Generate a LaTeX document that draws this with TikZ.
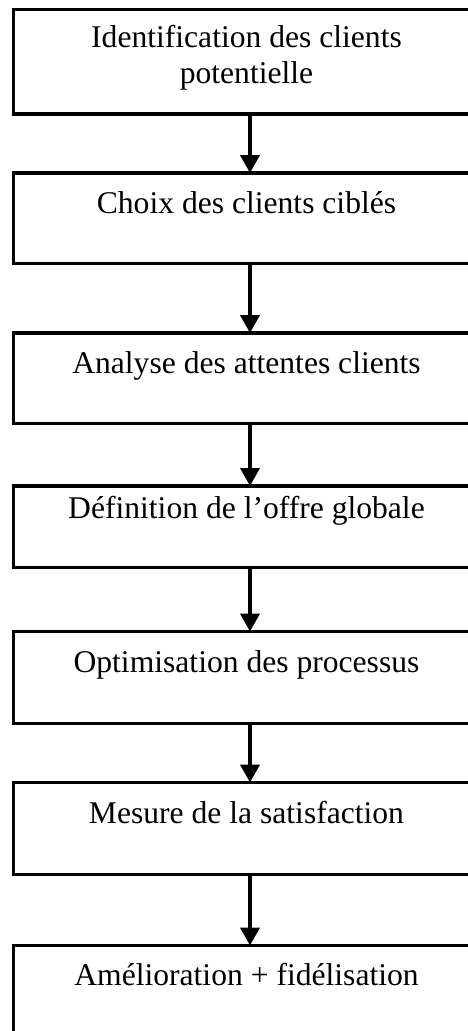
\documentclass[tikz,border=0pt]{standalone}
\usepackage{fontspec}
\setmainfont{Liberation Serif}
\usetikzlibrary{arrows.meta,calc}
\tikzset{
  box/.style={draw=black, line width=3.5pt, minimum width=473pt, inner sep=0pt, outer sep=0pt, anchor=north},
  lbl/.style={anchor=base, inner sep=0pt, font=\fontsize{31.6}{35.5}\selectfont, align=center},
  flow/.style={line width=4pt, -{Triangle[width=19pt,length=18pt]}}
}
\begin{document}
\begin{tikzpicture}[x=1pt,y=1pt]
\useasboundingbox (0,0) rectangle (468,-1031);
\clip (0,0) rectangle (468,-1031);
\fill[white] (0,0) rectangle (468,-1031);
\node[box, minimum height=104.5pt] (b1) at (250,-9.5) {};
\node[box, minimum height=90.5pt] (b2) at (250,-173) {};
\node[box, minimum height=90.5pt] (b3) at (250,-333) {};
\node[box, minimum height=81.5pt] (b4) at (250,-486) {};
\node[box, minimum height=92pt] (b5) at (250,-631.5) {};
\node[box, minimum height=92pt] (b6) at (250,-782.5) {};
\node[box, minimum height=120pt] (b7) at (250,-945.5) {};
\node[lbl] (t1) at (246.5,-83.3) {Identification des clients\\potentielle};
\node[lbl] (t2) at (246.5,-213) {Choix des clients ciblés};
\node[lbl] (t3) at (246.5,-373.3) {Analyse des attentes clients};
\node[lbl] (t4) at (246.5,-518) {Définition de l’offre globale};
\node[lbl] (t5) at (246.5,-672) {Optimisation des processus};
\node[lbl] (t6) at (246.5,-823) {Mesure de la satisfaction};
\node[lbl] (t7) at (246.5,-985) {Amélioration + fidélisation};
\draw[flow] (b1.south) -- (b2.north);
\draw[flow] (b2.south) -- (b3.north);
\draw[flow] (b3.south) -- (b4.north);
\draw[flow] (b4.south) -- (b5.north);
\draw[flow] (b5.south) -- (b6.north);
\draw[flow] (b6.south) -- (b7.north);
\end{tikzpicture}
\end{document}
